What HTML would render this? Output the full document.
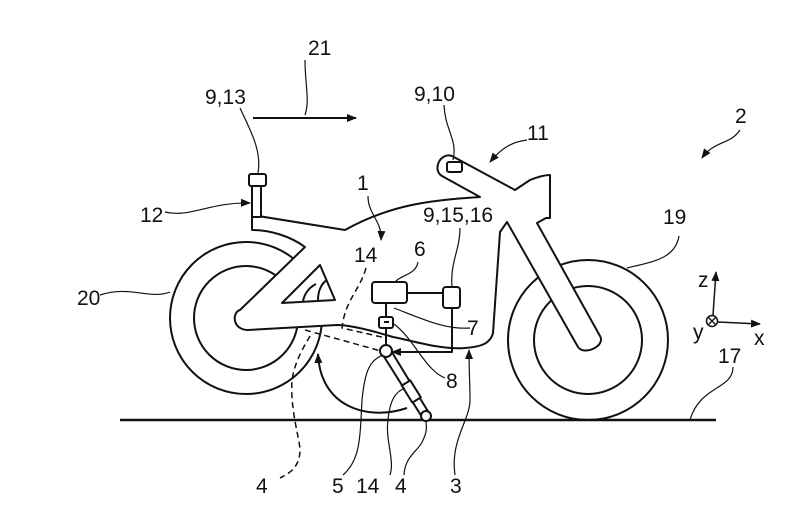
<!DOCTYPE html>
<html><head><meta charset="utf-8"><style>
html,body{margin:0;padding:0;background:#fff;}
svg{display:block;}
text{font-family:"Liberation Sans",sans-serif;font-size:21px;fill:#111;}
</style></head><body>
<svg width="800" height="515" viewBox="0 0 800 515" xmlns="http://www.w3.org/2000/svg">
<defs>
<marker id="ah" markerWidth="10" markerHeight="10" refX="9" refY="5" orient="auto" markerUnits="userSpaceOnUse"><path d="M0,1 L10,5 L0,9 z" fill="#111"/></marker>
</defs>
<g fill="none" stroke="#111" stroke-width="2" stroke-linejoin="round">
<line x1="120" y1="420" x2="716" y2="420" stroke-width="2.5"/>
<circle cx="246" cy="318" r="76"/>
<circle cx="246" cy="318" r="52" fill="#fff"/>
<circle cx="588" cy="340" r="80"/>
<circle cx="588" cy="340" r="54"/>
<path d="M407,408 C365,422 320,405 318,354" marker-end="url(#ah)"/>
<path fill="#fff" d="M252,215 L345,230 C390,205 430,200 480,197 L442,176 C432,170 440,152 452,156 L515,190 L530,180 C540,176 546,175 550,175 L550,218 L546,218 L537,223 L600,336 C606,346 584,356 578,347 L507,222 L500,232 L493,333 C490,345 478,347 465,348 C440,350 410,340 393,337 C370,330 350,325 337,325 L248,330 C232,330 232,312 240,310 L305,247 C290,236 270,230 252,230 Z"/>
<path d="M282,303 L320,265 L335,300 Z"/>
<path d="M303,301 C305,292 310,287 316,284 M318,300 C318,290 322,283 327,280"/>
<rect x="252" y="185" width="9" height="32" fill="#fff"/>
<rect x="249" y="174" width="17" height="12" rx="2" fill="#fff"/>
<rect x="447" y="162" width="15" height="10" rx="2"/>
<rect x="372" y="282" width="35" height="21" rx="3" fill="#fff"/>
<rect x="443" y="287" width="17" height="21" rx="3" fill="#fff"/>
<line x1="407" y1="293" x2="443" y2="293"/>
<rect x="379" y="317" width="14" height="11" rx="2" fill="#fff"/>
<line x1="384" y1="322" x2="389" y2="322"/>
<line x1="386" y1="303" x2="386" y2="317"/>
<line x1="386" y1="328" x2="386" y2="347"/>
<path d="M452,308 L452,352 L392,352" marker-end="url(#ah)"/>
<path d="M383,355 L422,417 M390,349 L429,413" stroke-width="2"/>
<rect x="-5" y="0" width="10" height="20" transform="translate(406,383) rotate(-32)" fill="#fff"/>
<circle cx="426" cy="416" r="5" fill="#fff"/>
<circle cx="386" cy="351" r="6" fill="#fff"/>
<g stroke-dasharray="6,4" stroke-width="1.5">
<path d="M366,268 C360,290 345,300 342,328 L386,338"/>
<path d="M305,330 L381,351"/>
<path d="M310,336 C305,345 295,360 292,380 C290,410 300,440 300,450 C300,470 285,475 280,478"/>
</g>
<g stroke-width="1.2">
<path d="M305,60 C305,85 310,100 305,115"/>
<path d="M240,108 C250,130 262,150 258,173"/>
<path d="M444,105 C445,130 458,140 453,160"/>
<path d="M527,140 C510,142 500,150 490,162" marker-end="url(#ah)"/>
<path d="M740,130 C730,145 715,140 702,158" marker-end="url(#ah)"/>
<path d="M368,196 C368,215 382,220 381,240" marker-end="url(#ah)"/>
<path d="M165,212 C190,218 210,202 250,203" marker-end="url(#ah)"/>
<path d="M418,262 C416,275 400,275 395,282"/>
<path d="M460,228 C460,250 450,262 452,287"/>
<path d="M679,236 C675,260 650,262 627,268"/>
<path d="M100,295 C130,285 150,300 170,292"/>
<path d="M470,328 C445,330 420,318 394,308"/>
<path d="M445,378 C425,370 415,340 394,324"/>
<path d="M733,367 C733,390 700,385 690,420"/>
<path d="M343,475 C360,460 360,440 362,400 C365,370 370,360 383,355"/>
<path d="M390,475 C395,460 385,440 388,420 C390,400 395,392 405,388"/>
<path d="M404,475 C405,455 420,450 423,440 C428,430 426,425 426,421"/>
<path d="M455,475 C450,440 470,420 470,400 C470,385 469,370 469,350" marker-end="url(#ah)"/>
</g>
<line x1="253" y1="118" x2="356" y2="118" stroke-width="2" marker-end="url(#ah)"/>
<circle cx="712" cy="321" r="5.5" stroke-width="1.5"/>
<path d="M708,317 L716,325 M716,317 L708,325" stroke-width="1.3"/>
<line x1="713" y1="315" x2="716" y2="272" stroke-width="1.5" marker-end="url(#ah)"/>
<line x1="718" y1="322" x2="760" y2="324" stroke-width="1.5" marker-end="url(#ah)"/>
</g>
<text x="308" y="55">21</text>
<text x="205" y="104">9,13</text>
<text x="414" y="101">9,10</text>
<text x="527" y="140">11</text>
<text x="735" y="123">2</text>
<text x="357" y="190">1</text>
<text x="140" y="222">12</text>
<text x="354" y="262">14</text>
<text x="414" y="256">6</text>
<text x="423" y="222">9,15,16</text>
<text x="663" y="224">19</text>
<text x="77" y="305">20</text>
<text x="467" y="335">7</text>
<text x="446" y="388">8</text>
<text x="718" y="363">17</text>
<text x="256" y="493">4</text>
<text x="332" y="493">5</text>
<text x="356" y="493">14</text>
<text x="395" y="493">4</text>
<text x="450" y="493">3</text>
<text x="698" y="287">z</text>
<text x="693" y="339">y</text>
<text x="754" y="345">x</text>
</svg>
</body></html>
